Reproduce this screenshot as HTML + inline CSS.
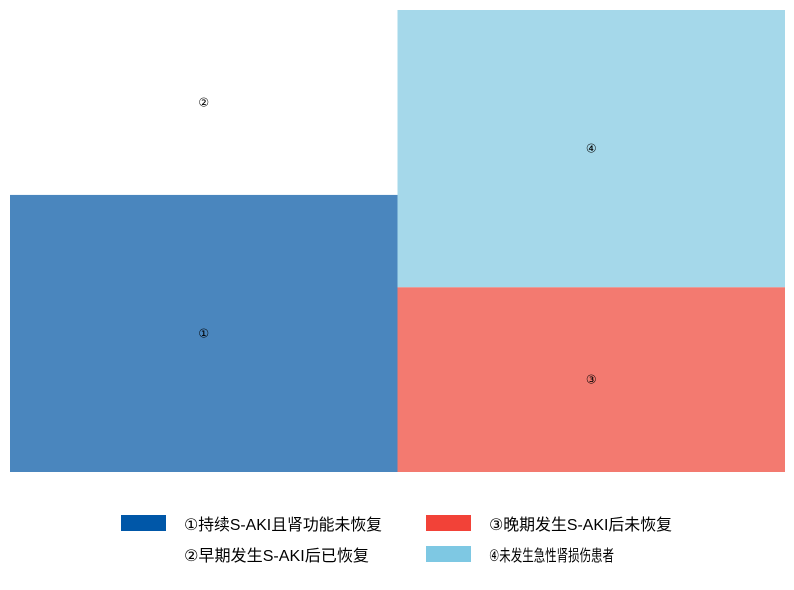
<!DOCTYPE html>
<html><head><meta charset="utf-8"><style>
body{margin:0;background:#fff;width:794px;height:585px;overflow:hidden;font-family:"Liberation Sans","DejaVu Sans","Noto Sans CJK SC",sans-serif}
</style></head><body>
<svg id="chart" width="794" height="585"></svg>
<script>
const labels=["①","②","③","④"];
const columns=[["①","②"],["③","④"]];
const values=[60,40,40,60];
const fills=["#4a86be","#ffffff","#f37a70","#a5d8ea"];
const legendText=["①持续S-AKI且肾功能未恢复","②早期发生S-AKI后已恢复","③晚期发生S-AKI后未恢复","④未发生急性肾损伤患者"];
const NS="http://www.w3.org/2000/svg";
const svg=document.getElementById("chart");
const X0=10,X1=785,Y0=10,Y1=472;
const colW=(X1-X0)/columns.length;
function mk(t,a){const e=document.createElementNS(NS,t);for(const k in a)e.setAttribute(k,a[k]);return e;}
columns.forEach((col,ci)=>{
  const tot=col.reduce((s,l)=>s+values[labels.indexOf(l)],0);
  let y=Y1;
  col.forEach(l=>{
    const i=labels.indexOf(l);
    const h=values[i]/tot*(Y1-Y0);
    const r=mk("rect",{x:X0+ci*colW,y:y-h,width:colW,height:h,fill:fills[i]});
    
    
    svg.appendChild(r);
    const t=mk("text",{x:X0+ci*colW+colW/2,y:y-h/2+4,"text-anchor":"middle","font-size":"12",fill:"#000"});
    t.textContent=l;
    
    
    svg.appendChild(t);
    y-=h;
  });
});
const leg=[[121,515,"#0057a8",0,198],[121,546,null,1,185],[426,515,"#f24238",2,183],[426,546,"#7ec8e3",3,125]];
leg.forEach(([x,y,c,i,w])=>{
  if(c){const r=mk("rect",{x:x,y:y,width:45,height:16,fill:c});
    
    
    svg.appendChild(r);}
  const t=mk("text",{x:x+63,y:y+15,"font-size":"16",fill:"#000",textLength:w,lengthAdjust:"spacingAndGlyphs"});
  t.textContent=legendText[i];
  
  
  svg.appendChild(t);
});
</script>
</body></html>
